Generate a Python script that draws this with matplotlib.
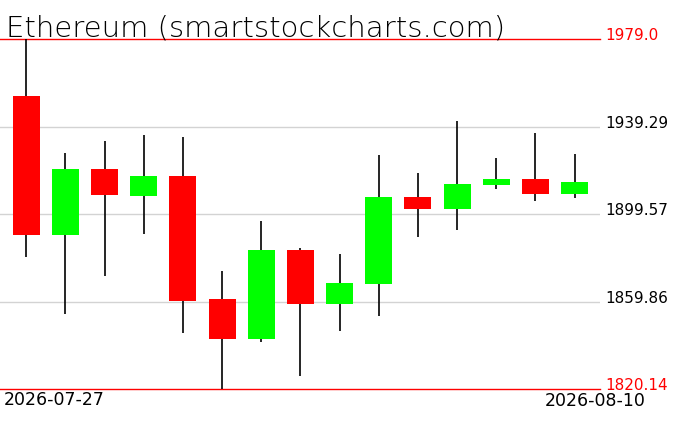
import numpy as np
import pandas as pd
import matplotlib
matplotlib.use("Agg")
import matplotlib.pyplot as plt

dates = pd.date_range("2026-07-27", "2026-08-10", freq="D")
opens = [1953.4, 1890.1, 1920.1, 1908.0, 1916.9, 1861.0, 1842.9, 1883.3,
         1858.9, 1868.0, 1907.4, 1902.0, 1912.9, 1915.5, 1908.9]
closes = [1890.1, 1920.1, 1908.4, 1916.9, 1860.3, 1842.9, 1883.3, 1858.9,
          1868.3, 1907.4, 1902.0, 1913.3, 1915.5, 1908.9, 1914.2]
highs = [1979.0, 1927.4, 1932.8, 1935.5, 1934.6, 1873.8, 1896.5, 1884.2,
         1881.5, 1926.4, 1918.3, 1941.9, 1925.1, 1936.4, 1926.9]
lows = [1880.1, 1854.2, 1871.5, 1890.6, 1845.7, 1820.14, 1841.6, 1826.2,
        1846.6, 1853.4, 1889.3, 1892.5, 1911.0, 1905.7, 1907.0]

ymin, ymax = 1820.14, 1979.0
grid_vals = [1939.29, 1899.57, 1859.86]

W, H = 676, 431
fig = plt.figure(figsize=(W / 100, H / 100), dpi=100)
ax = fig.add_axes([0, 41 / H, 600 / W, 349.7 / H])

x = np.arange(len(dates))
for g in grid_vals:
    ax.axhline(g, color="#d3d3d3", lw=1, zorder=0)
for lim in (ymin, ymax):
    ax.axhline(lim, color="red", lw=1, zorder=1, clip_on=False)

for i in x:
    o, c = opens[i], closes[i]
    col = "#00ff00" if c >= o else "#ff0000"
    ax.vlines(i, lows[i], highs[i], color="black", lw=1.2, zorder=2)
    ax.bar(i, abs(c - o), bottom=min(o, c), width=0.69, color=col,
           linewidth=0, zorder=3)

ax.set_xlim(-0.672, 14.65)
ax.set_ylim(ymin, ymax)
ax.axis("off")

# right-hand price labels
for v in [ymax] + grid_vals + [ymin]:
    col = "red" if v in (ymin, ymax) else "black"
    lbl = "%.1f" % v if v == ymax else "%.2f" % v
    ax.text(605 / 600, v, lbl, transform=ax.get_yaxis_transform(),
            color=col, fontsize=11, ha="left", va="baseline")

fig.text(4 / W, (H - 391) / H, dates[0].strftime("%Y-%m-%d"),
         fontsize=12.5, ha="left", va="top")
fig.text(646 / W, (H - 392) / H, dates[-1].strftime("%Y-%m-%d"),
         fontsize=12.5, ha="right", va="top")

fig.text(6 / W, (H - 37) / H, "Ethereum (smartstockcharts.com)",
         fontsize=21, ha="left", va="baseline", fontweight="light",
         color="black")

fig.savefig("out.png", dpi=100)
